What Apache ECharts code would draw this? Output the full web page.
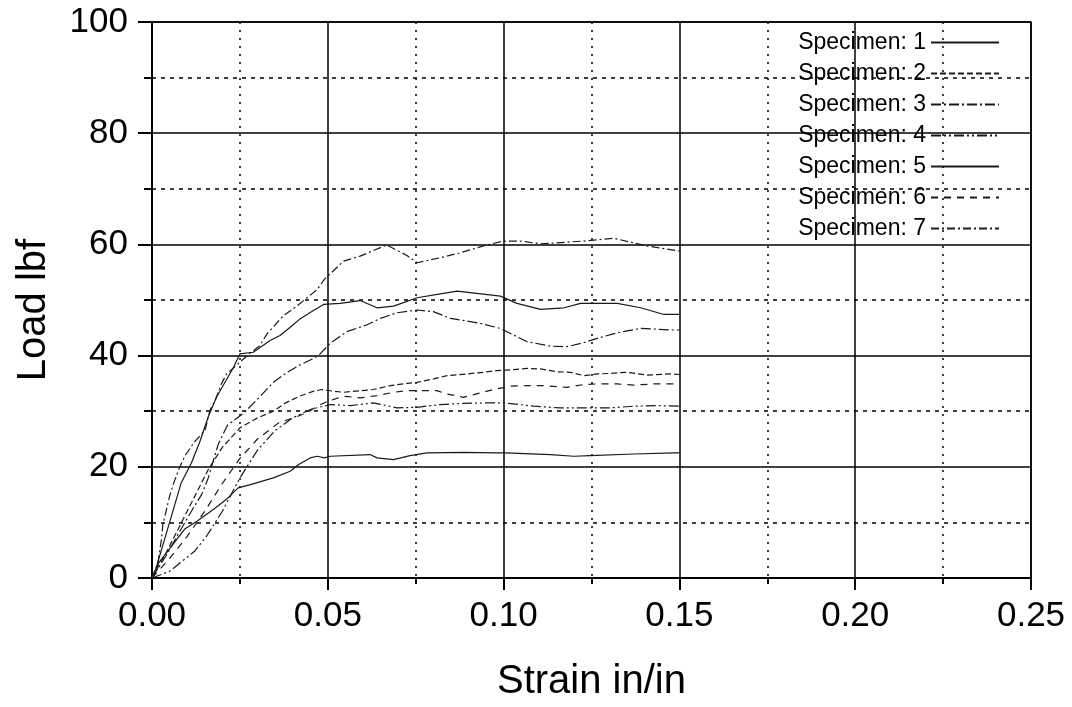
<!DOCTYPE html>
<html>
<head>
    <meta charset="utf-8" />
    <title>Load vs Strain</title>
    <script src="https://cdn.jsdelivr.net/npm/echarts@6/dist/echarts.min.js"></script>
    <style type="text/css">
        html, body { margin: 0; padding: 0; background: #fff; }
        #main { width: 1072px; height: 707px; }
    </style>
</head>
<body>
<div id="main"></div>
<script type="text/javascript">
    // data: strain (in/in) and load (lbf) per specimen
    var strain1 = [0, 0.002, 0.0064, 0.0093, 0.013, 0.018, 0.0216, 0.0245, 0.028, 0.0345, 0.0393, 0.0417, 0.045, 0.047, 0.049, 0.0507, 0.062, 0.064, 0.0687, 0.0734, 0.0782, 0.0886, 0.0981, 0.1006, 0.1133, 0.12, 0.1247, 0.137, 0.1485, 0.15];
    var load1 = [0, 2.8, 6.4, 8.8, 10.3, 12.6, 14.4, 16.2, 16.8, 18, 19.2, 20.4, 21.6, 21.9, 21.6, 21.9, 22.2, 21.6, 21.3, 22.0, 22.5, 22.6, 22.5, 22.5, 22.2, 21.9, 22.0, 22.3, 22.5, 22.5];

    var strain2 = [0, 0.004, 0.008, 0.012, 0.016, 0.02, 0.025, 0.03, 0.0345, 0.038, 0.042, 0.046, 0.0483, 0.0516, 0.0545, 0.063, 0.0678, 0.0725, 0.0754, 0.0801, 0.0839, 0.0896, 0.0943, 0.0981, 0.101, 0.1067, 0.1105, 0.115, 0.119, 0.1228, 0.1266, 0.1304, 0.135, 0.1408, 0.1475, 0.15];
    var load2 = [0, 4.5, 9.5, 14.5, 19.5, 23.5, 27, 28.8, 30, 31.5, 32.7, 33.6, 33.9, 33.6, 33.4, 33.9, 34.6, 35.0, 35.2, 35.8, 36.4, 36.7, 37.0, 37.3, 37.4, 37.7, 37.6, 37.1, 37.0, 36.4, 36.7, 36.8, 37.0, 36.5, 36.7, 36.6];

    var strain3 = [0, 0.004, 0.008, 0.0112, 0.0141, 0.016, 0.0188, 0.0215, 0.026, 0.0307, 0.0345, 0.038, 0.042, 0.046, 0.0478, 0.0507, 0.0554, 0.061, 0.065, 0.0697, 0.0754, 0.08, 0.0849, 0.0934, 0.099, 0.1038, 0.1067, 0.1133, 0.118, 0.1227, 0.1266, 0.1323, 0.139, 0.1483, 0.15];
    var load3 = [0, 4, 8.5, 12, 15, 18, 24, 27.5, 29.6, 32.6, 35.2, 36.8, 38.3, 39.5, 40.3, 42.2, 44.3, 45.5, 46.7, 47.7, 48.2, 47.9, 46.7, 45.8, 44.9, 43.4, 42.5, 41.7, 41.6, 42.3, 43.1, 44.1, 44.9, 44.6, 44.6];

    var strain4 = [0, 0.005, 0.0121, 0.0155, 0.02, 0.025, 0.03, 0.035, 0.04, 0.045, 0.0507, 0.0564, 0.063, 0.0697, 0.0754, 0.082, 0.0886, 0.0953, 0.1, 0.1086, 0.116, 0.1247, 0.1304, 0.137, 0.1437, 0.15];
    var load4 = [0, 1.2, 4.8, 7.5, 12, 18, 23, 26.5, 28.8, 30.3, 31.2, 31.0, 31.5, 30.6, 30.7, 31.2, 31.4, 31.5, 31.5, 30.9, 30.6, 30.6, 30.6, 30.9, 31.0, 30.9];

    var strain5 = [0, 0.0008, 0.005, 0.0083, 0.0112, 0.0136, 0.016, 0.0184, 0.0232, 0.025, 0.0288, 0.0336, 0.0364, 0.0393, 0.0421, 0.0459, 0.0488, 0.0535, 0.0592, 0.064, 0.0687, 0.0754, 0.082, 0.0868, 0.0991, 0.1038, 0.1105, 0.1172, 0.1219, 0.1323, 0.139, 0.1456, 0.15];
    var load5 = [0, 1.0, 10, 17.1, 20.7, 24.5, 29, 32.6, 37.9, 40.3, 40.6, 42.7, 43.6, 45.1, 46.6, 48.1, 49.2, 49.4, 49.9, 48.6, 48.9, 50.4, 51.1, 51.6, 50.7, 49.4, 48.3, 48.6, 49.4, 49.4, 48.6, 47.4, 47.4];

    var strain6 = [0, 0.005, 0.01, 0.015, 0.02, 0.025, 0.03, 0.036, 0.0402, 0.044, 0.047, 0.05, 0.0545, 0.0592, 0.064, 0.0687, 0.0725, 0.081, 0.0839, 0.0886, 0.0934, 0.0972, 0.102, 0.1067, 0.1114, 0.118, 0.1228, 0.1266, 0.1323, 0.137, 0.1427, 0.15];
    var load6 = [0, 3.5, 7.5, 12, 17, 21.5, 25, 27.9, 28.8, 29.7, 30.9, 31.8, 32.7, 32.4, 32.8, 33.4, 33.7, 33.7, 33.1, 32.5, 33.3, 33.9, 34.5, 34.6, 34.6, 34.3, 34.8, 34.9, 34.9, 34.7, 34.9, 34.9];

    var strain7 = [0, 0.0017, 0.0022, 0.0027, 0.0031, 0.004, 0.005, 0.006, 0.0078, 0.0093, 0.0121, 0.0151, 0.0165, 0.018, 0.0198, 0.0212, 0.025, 0.028, 0.0307, 0.0327, 0.0374, 0.0412, 0.047, 0.049, 0.0545, 0.0592, 0.0668, 0.0725, 0.0754, 0.082, 0.0877, 0.0953, 0.1, 0.1048, 0.1105, 0.1227, 0.1313, 0.141, 0.15];
    var load7 = [0, 2.8, 4.9, 7.0, 9.7, 12.0, 14.7, 16.8, 19.8, 21.9, 24.5, 26.6, 30.2, 32, 35, 36.7, 38.8, 40.5, 41.8, 43.9, 47.2, 48.9, 51.9, 53.7, 57, 57.9, 59.9, 58, 56.7, 57.6, 58.5, 59.9, 60.6, 60.6, 60.1, 60.6, 61.1, 59.7, 58.8];

    var names = ['Specimen: 1', 'Specimen: 2', 'Specimen: 3', 'Specimen: 4', 'Specimen: 5', 'Specimen: 6', 'Specimen: 7'];
    var xTicks = [0, 0.05, 0.10, 0.15, 0.20, 0.25];
    var yTicks = [0, 20, 40, 60, 80, 100];

    var strains = [strain1, strain2, strain3, strain4, strain5, strain6, strain7];
    var loads = [load1, load2, load3, load4, load5, load6, load7];
    // dash patterns as in the legend
    var dashes = ['solid', [6, 3], [10, 3, 2, 3], [10, 3, 2, 3, 2, 3], 'solid', [7, 6], [8, 3, 2, 3]];

    var font = 'Liberation Sans, Arial, sans-serif';

    var series = [];
    for (var i = 0; i < names.length; i++) {
        var pts = [];
        for (var j = 0; j < strains[i].length; j++) {
            pts.push([strains[i][j], loads[i][j]]);
        }
        series.push({
            name: names[i],
            type: 'line',
            symbol: 'none',
            smooth: false,
            data: pts,
            lineStyle: { color: '#1a1a1a', width: 1.2, type: dashes[i] },
            itemStyle: { color: '#1a1a1a' }
        });
    }

    var myChart = echarts.init(document.getElementById('main'));
    var option = {
        animation: false,
        backgroundColor: '#fff',
        grid: {
            left: 152, right: 41, top: 22, bottom: 124.5,
            show: true, borderColor: '#000', borderWidth: 1.5
        },
        legend: {
            data: names,
            orient: 'vertical',
            align: 'right',
            right: 67,
            top: 26,
            itemWidth: 68,
            itemHeight: 14,
            itemGap: 8,
            // hide the dot, keep the line sample
            itemStyle: { opacity: 0 },
            textStyle: { color: '#000', fontFamily: font, fontSize: 23, lineHeight: 23 }
        },
        xAxis: {
            type: 'value',
            min: xTicks[0],
            max: xTicks[xTicks.length - 1],
            interval: 0.05,
            name: 'Strain in/in',
            nameLocation: 'middle',
            nameGap: 84,
            nameTextStyle: { color: '#000', fontFamily: font, fontSize: 40 },
            axisLine: { show: true, onZero: false, lineStyle: { color: '#000', width: 2 } },
            axisTick: { show: true, length: 12, lineStyle: { color: '#000', width: 2 } },
            minorTick: { show: true, splitNumber: 2, length: 6, lineStyle: { color: '#000', width: 2 } },
            axisLabel: {
                color: '#000', fontFamily: font, fontSize: 35, margin: 21,
                formatter: function (v) { return v.toFixed(2); }
            },
            splitLine: { show: true, lineStyle: { color: '#000', width: 1.5 } },
            minorSplitLine: { show: true, lineStyle: { color: '#000', width: 1.5, type: [2, 6] } }
        },
        yAxis: {
            type: 'value',
            min: yTicks[0],
            max: yTicks[yTicks.length - 1],
            interval: 20,
            name: 'Load lbf',
            nameLocation: 'middle',
            nameGap: 98,
            nameTextStyle: { color: '#000', fontFamily: font, fontSize: 40, padding: [0, 20, 0, 0] },
            axisLine: { show: true, onZero: false, lineStyle: { color: '#000', width: 2 } },
            axisTick: { show: true, length: 14, lineStyle: { color: '#000', width: 2 } },
            minorTick: { show: true, splitNumber: 2, length: 8, lineStyle: { color: '#000', width: 2 } },
            axisLabel: { color: '#000', fontFamily: font, fontSize: 35, margin: 24 },
            splitLine: { show: true, lineStyle: { color: '#000', width: 1.5 } },
            minorSplitLine: { show: true, lineStyle: { color: '#000', width: 1.5, type: [4, 5] } }
        },
        series: series
    };
    myChart.setOption(option);
</script>
</body>
</html>
